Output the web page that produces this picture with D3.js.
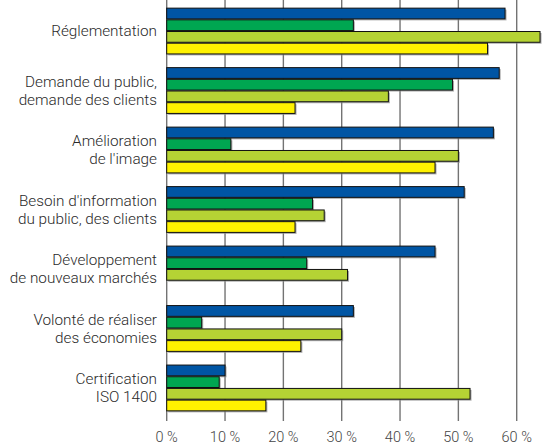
<!DOCTYPE html>
<html><head><meta charset="utf-8">
<script src="https://cdn.jsdelivr.net/npm/d3@7"></script>
<style>body{margin:0;background:#fff}svg{display:block}</style>
</head><body><svg id="c" width="545" height="446"></svg>
<script>
const categories = [
  ["Réglementation"],
  ["Demande du public,", "demande des clients"],
  ["Amélioration", "de l'image"],
  ["Besoin d'information", "du public, des clients"],
  ["Développement", "de nouveaux marchés"],
  ["Volonté de réaliser", "des économies"],
  ["Certification", "ISO 1400"]
];
const seriesNames = ["s1", "s2", "s3", "s4"];
const s1 = [58, 57, 56, 51, 46, 32, 10];
const s2 = [32, 49, 11, 25, 24, 6, 9];
const s3 = [64, 38, 50, 27, 31, 30, 52];
const s4 = [55, 22, 46, 22, null, 23, 17];
const seriesValues = [s1, s2, s3, s4];
const colors = ["#0055a4", "#00a651", "#b5d334", "#fff200"];
const ticks = [0, 10, 20, 30, 40, 50, 60];

const svg = d3.select("#c");
const x = d3.scaleLinear().domain([0, 60]).range([166.7, 516.7]);
const y = d3.scaleBand().domain(d3.range(categories.length)).range([1, 418]).paddingInner(0.23).paddingOuter(0.12);
const yi = d3.scaleBand().domain(d3.range(4)).range([0, y.bandwidth()]).paddingInner(0.08);

// gridlines
svg.append("g").selectAll("line").data(ticks).join("line")
  .attr("x1", d => x(d)).attr("x2", d => x(d))
  .attr("y1", 0).attr("y2", 421)
  .attr("stroke", "#737373").attr("stroke-width", 1.4);

// bars
const data = [];
categories.forEach((c, i) => seriesValues.forEach((s, j) => {
  if (s[i] != null) data.push({i, j, v: s[i]});
}));
const g = svg.append("g");
g.selectAll("rect.sh").data(data).join("rect").attr("class", "sh")
  .attr("x", x(0) + 1.5).attr("y", d => y(d.i) + yi(d.j) + 1.5)
  .attr("width", d => x(d.v) - x(0)).attr("height", yi.bandwidth())
  .attr("fill", "#8a8a8a").attr("opacity", 0.7);
g.selectAll("rect.b").data(data).join("rect").attr("class", "b")
  .attr("x", x(0)).attr("y", d => y(d.i) + yi(d.j))
  .attr("width", d => x(d.v) - x(0)).attr("height", yi.bandwidth())
  .attr("fill", d => colors[d.j]).attr("stroke", "#111").attr("stroke-width", 1);

// category labels
const lab = svg.append("g").attr("font-family", "Roboto, 'Open Sans', sans-serif")
  .attr("font-size", 15.3).attr("font-weight", 300).attr("fill", "#2a2a2a");
categories.forEach((lines, i) => {
  const cy = y(i) + y.bandwidth() / 2;
  const lh = 18;
  const t = lab.append("text").attr("text-anchor", "end");
  lines.forEach((l, k) => {
    t.append("tspan").attr("x", 157)
      .attr("y", cy + (k - (lines.length - 1) / 2) * lh)
      .attr("dy", "0.35em").text(l);
  });
});

// x axis labels
svg.append("g").attr("font-family", "Roboto, 'Open Sans', sans-serif")
  .attr("font-size", 14.5).attr("font-weight", 300).attr("fill", "#444")
  .selectAll("text").data(ticks).join("text")
  .attr("x", d => x(d)).attr("y", 437).attr("dy", "0.35em")
  .attr("text-anchor", "middle").text(d => d + " %");
</script></body></html>
